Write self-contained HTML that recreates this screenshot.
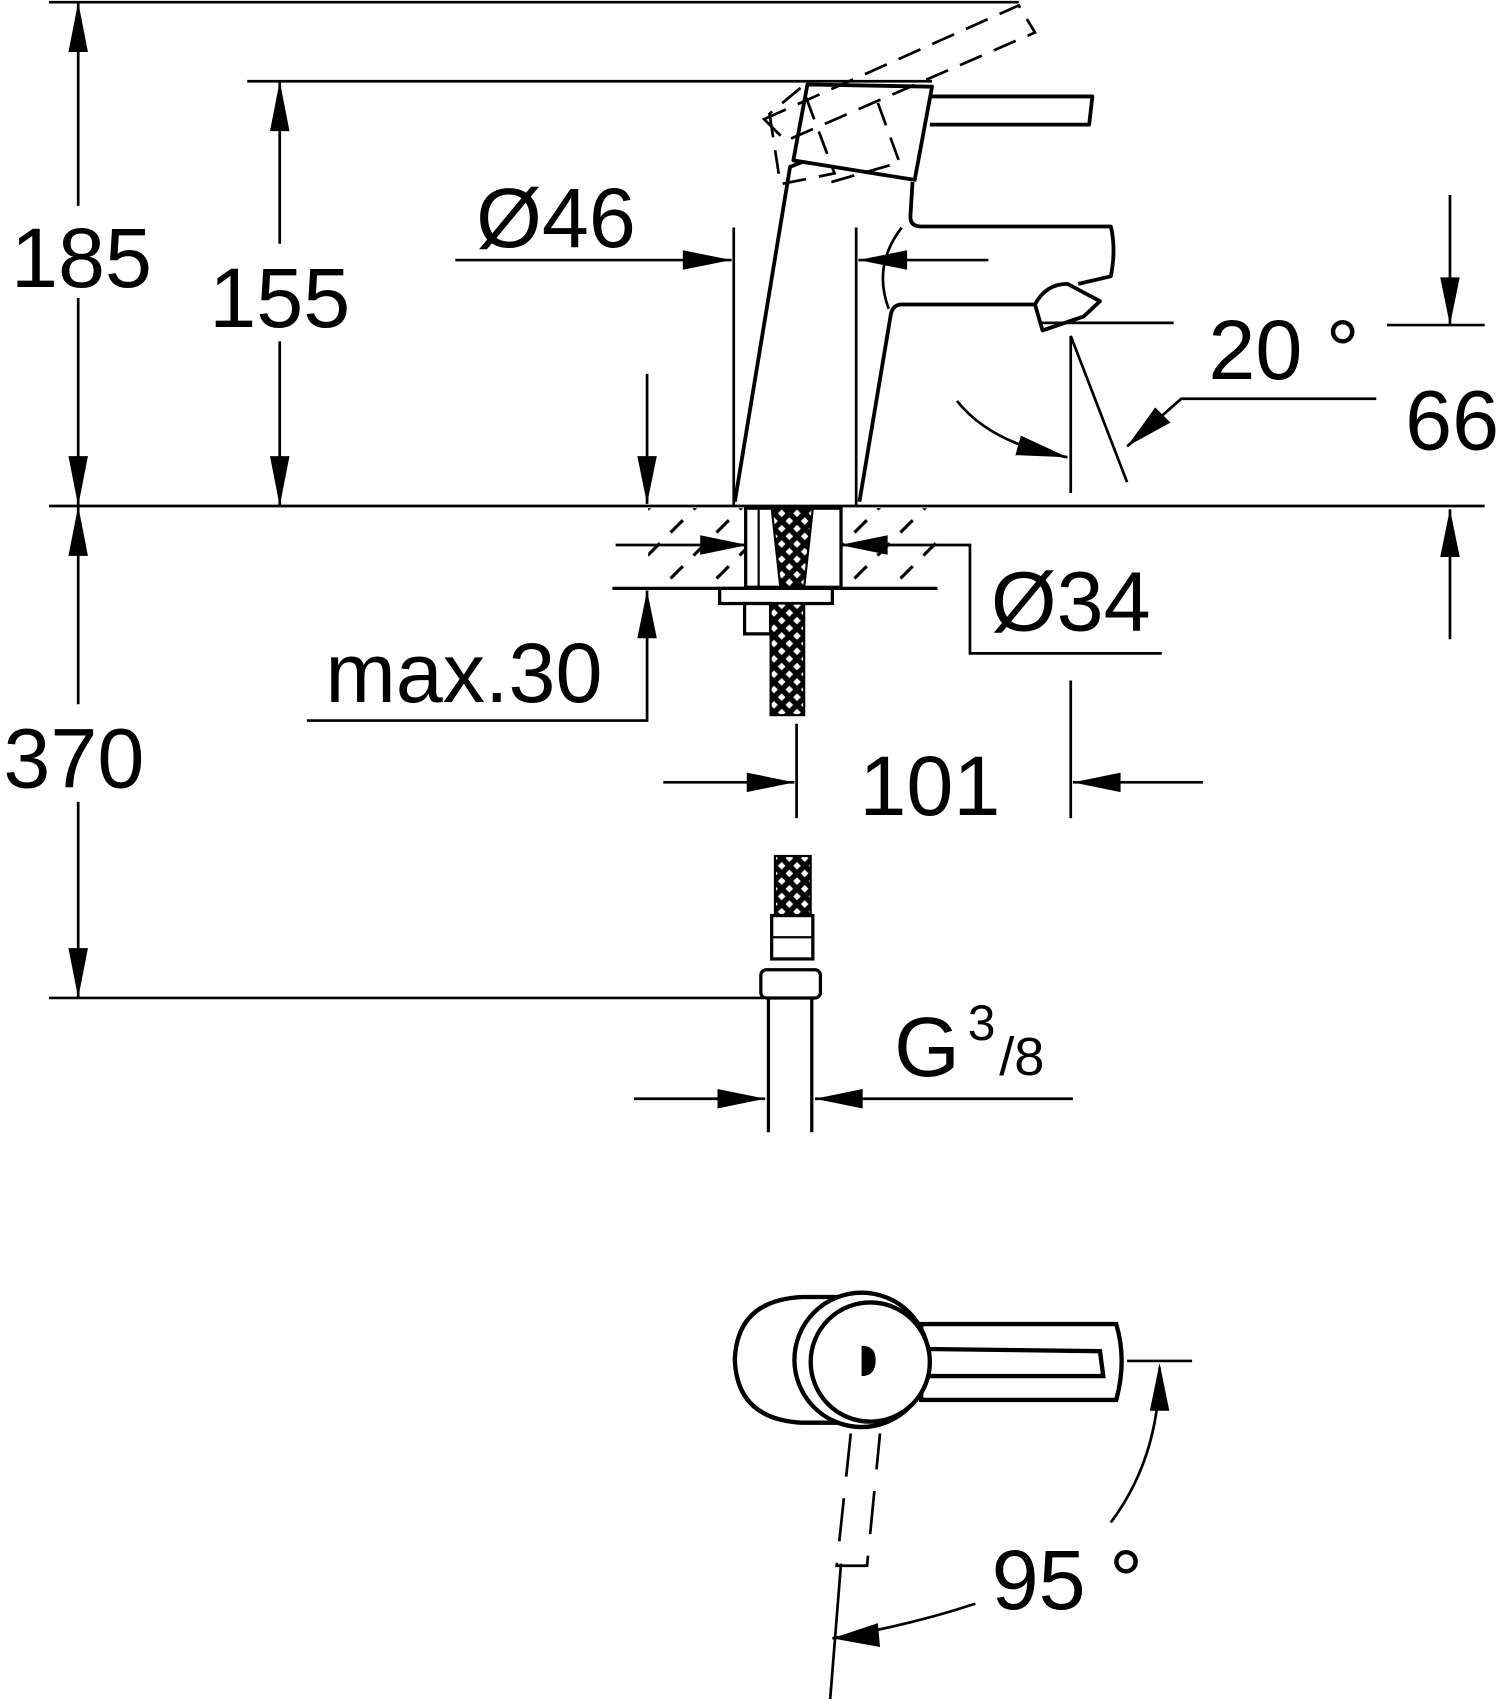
<!DOCTYPE html>
<html><head><meta charset="utf-8"><style>html,body{margin:0;padding:0;background:#fff}svg{display:block}text{font-family:"Liberation Sans",sans-serif;fill:#000}</style></head><body>
<svg width="1500" height="1699" viewBox="0 0 1384 1568" xmlns="http://www.w3.org/2000/svg">
<defs>
<pattern id="hatch" width="30" height="30" patternUnits="userSpaceOnUse" patternTransform="rotate(-45)"><line x1="0" y1="5" x2="16" y2="5" stroke="#000" stroke-width="3"/></pattern>
<pattern id="braid" width="10" height="10" patternUnits="userSpaceOnUse" patternTransform="rotate(45)"><rect width="10" height="10" fill="#000"/><rect x="2.5" y="2.5" width="5" height="5" fill="#fff"/></pattern>
</defs>
<g stroke="#000" stroke-width="2.5" fill="none">
<line x1="45" y1="2" x2="940" y2="2"/>
<line x1="228" y1="75" x2="860" y2="75"/>
<line x1="45" y1="467" x2="1370" y2="467"/>
<line x1="45" y1="921" x2="705" y2="921"/>
<line x1="72" y1="2" x2="72" y2="190"/><line x1="72" y1="275" x2="72" y2="467"/>
<line x1="72" y1="467" x2="72" y2="650"/><line x1="72" y1="740" x2="72" y2="921"/>
<line x1="258" y1="75" x2="258" y2="225"/><line x1="258" y1="315" x2="258" y2="467"/>
<line x1="420" y1="240" x2="675" y2="240"/><line x1="677" y1="210" x2="677" y2="467"/><line x1="790" y1="210" x2="790" y2="467"/><line x1="792" y1="240" x2="912" y2="240"/>
<path d="M832 210 Q805 245 820 285"/>
<line x1="960" y1="298" x2="1083" y2="298"/>
<line x1="988" y1="310" x2="988" y2="455"/>
<line x1="988" y1="310" x2="1040" y2="445"/>
<path d="M883 370 Q915 410 985 422"/>
<polyline points="1270,368 1090,368 1040,412"/>
<line x1="1338" y1="180" x2="1338" y2="300"/><line x1="1280" y1="300" x2="1370" y2="300"/>
<line x1="1338" y1="470" x2="1338" y2="590"/>
<line x1="597" y1="345" x2="597" y2="465"/>
<polyline points="597,545 597,665 283,665"/>
<line x1="568" y1="503" x2="690" y2="503"/>
<polyline points="775,503 895,503 895,603 1072,603"/>
<line x1="735" y1="668" x2="735" y2="755"/><line x1="988" y1="628" x2="988" y2="755"/>
<line x1="612" y1="722" x2="733" y2="722"/><line x1="990" y1="722" x2="1110" y2="722"/>
<line x1="585" y1="1014" x2="706" y2="1014"/><line x1="752" y1="1014" x2="990" y2="1014"/>
<line x1="1040" y1="1256" x2="1100" y2="1256"/>
<path d="M1070 1262 Q1070 1345 1025 1405"/>
<path d="M900 1480 Q840 1500 768 1512"/>
<line x1="776" y1="1443" x2="766" y2="1568"/>
</g>
<g fill="#000">
<polygon points="72,2 63,48 81,48"/><polygon points="72,467 63,421 81,421"/>
<polygon points="72,467 63,513 81,513"/><polygon points="72,921 63,875 81,875"/>
<polygon points="258,75 249,121 267,121"/><polygon points="258,467 249,421 267,421"/>
<polygon points="675,240 630,231 630,249"/><polygon points="792,240 837,231 837,249"/>
<polygon points="985,422 942,402 937,420"/><polygon points="1040,412 1066,376 1080,390"/>
<polygon points="1338,300 1329,256 1347,256"/><polygon points="1338,470 1329,514 1347,514"/>
<polygon points="597,465 588,421 606,421"/><polygon points="597,545 588,589 606,589"/>
<polygon points="690,503 646,494 646,512"/><polygon points="775,503 819,494 819,512"/>
<polygon points="733,722 689,713 689,731"/><polygon points="990,722 1034,713 1034,731"/>
<polygon points="706,1014 662,1005 662,1023"/><polygon points="752,1014 796,1005 796,1023"/>
<polygon points="1070,1258 1061,1302 1079,1302"/><polygon points="768,1512 810,1498 812,1520"/>
</g>
<g stroke="#000" stroke-width="3.5" fill="none" stroke-linejoin="round">
<path d="M678 463 L729 154 L744 148"/>
<polygon points="745,78 860,80 844,166 732,148" fill="#fff"/>
<path d="M842 168 L840 200 Q840 209 850 209 L1025 209 Q1030 230 1025 255 L995 262"/>
<path d="M793 463 L822 290 Q824 281 832 281 L955 281"/>
<path d="M955 281 Q965 262 985 262 L1015 278 L1000 292 L962 305 Z"/>
<path d="M858 89 L1008 89 L1005 115 L858 115"/>
</g>
<g stroke="#000" stroke-width="2.5" fill="none" stroke-dasharray="22,12">
<polygon points="705,110 940,5 955,30 725,130"/>
<path d="M710 105 L720 170 L770 160 L740 80 Z"/>
<path d="M810 95 L830 150 L760 170"/>
</g>
<rect x="598" y="469" width="267" height="73" fill="url(#hatch)"/>
<line x1="565" y1="543" x2="865" y2="543" stroke="#000" stroke-width="3"/>
<rect x="688" y="469" width="88" height="73" fill="#fff" stroke="#000" stroke-width="3"/>
<line x1="700" y1="469" x2="700" y2="542" stroke="#000" stroke-width="2"/>
<polygon points="712,469 750,469 742,542 720,542" fill="url(#braid)" stroke="#000" stroke-width="2"/>
<rect x="664" y="543" width="104" height="14" fill="#fff" stroke="#000" stroke-width="3"/>
<rect x="687" y="557" width="24" height="28" fill="#fff" stroke="#000" stroke-width="3"/>
<rect x="711" y="557" width="31" height="103" fill="url(#braid)" stroke="#000" stroke-width="2"/>
<rect x="715" y="790" width="33" height="55" fill="url(#braid)" stroke="#000" stroke-width="2"/>
<rect x="712" y="845" width="38" height="40" fill="#fff" stroke="#000" stroke-width="3"/>
<line x1="712" y1="865" x2="750" y2="865" stroke="#000" stroke-width="2"/>
<rect x="702" y="895" width="55" height="26" rx="5" fill="#fff" stroke="#000" stroke-width="3"/>
<line x1="709" y1="921" x2="709" y2="1045" stroke="#000" stroke-width="3"/>
<line x1="749" y1="921" x2="749" y2="1045" stroke="#000" stroke-width="3"/>
<g stroke="#000" stroke-width="4" fill="#fff">
<path d="M740 1197 Q680 1200 678 1255 Q680 1310 740 1313 L790 1313 L790 1197 Z"/>
<path d="M850 1222 L1030 1222 Q1040 1255 1030 1292 L850 1292 Z"/>
<circle cx="795" cy="1255" r="62"/>
<circle cx="803" cy="1257" r="55"/>
<path d="M855 1245 L1015 1247 L1018 1270 L855 1270" fill="none"/>
</g>
<path d="M795 1242 Q808 1242 808 1255 Q808 1270 795 1270 Z" fill="#000"/>
<g stroke="#000" stroke-width="2.5" fill="none" stroke-dasharray="40,20">
<path d="M785 1323 L772 1445 L800 1445 L812 1323"/>
</g>
<g font-size="78">
<text x="75" y="265" text-anchor="middle">185</text>
<text x="68" y="727" text-anchor="middle">370</text>
<text x="258" y="302" text-anchor="middle">155</text>
<text x="513" y="228" text-anchor="middle">Ø46</text>
<text x="1115" y="350">20 °</text>
<text x="1340" y="415" text-anchor="middle">66</text>
<text x="988" y="582" text-anchor="middle">Ø34</text>
<text x="428" y="648" text-anchor="middle">max.30</text>
<text x="858" y="752" text-anchor="middle">101</text>
<text x="825" y="993">G</text>
<text x="915" y="1485">95 °</text>
</g>
<text x="893" y="960" font-size="46">3</text>
<text x="922" y="992" font-size="50">/8</text>
</svg>
</body></html>
